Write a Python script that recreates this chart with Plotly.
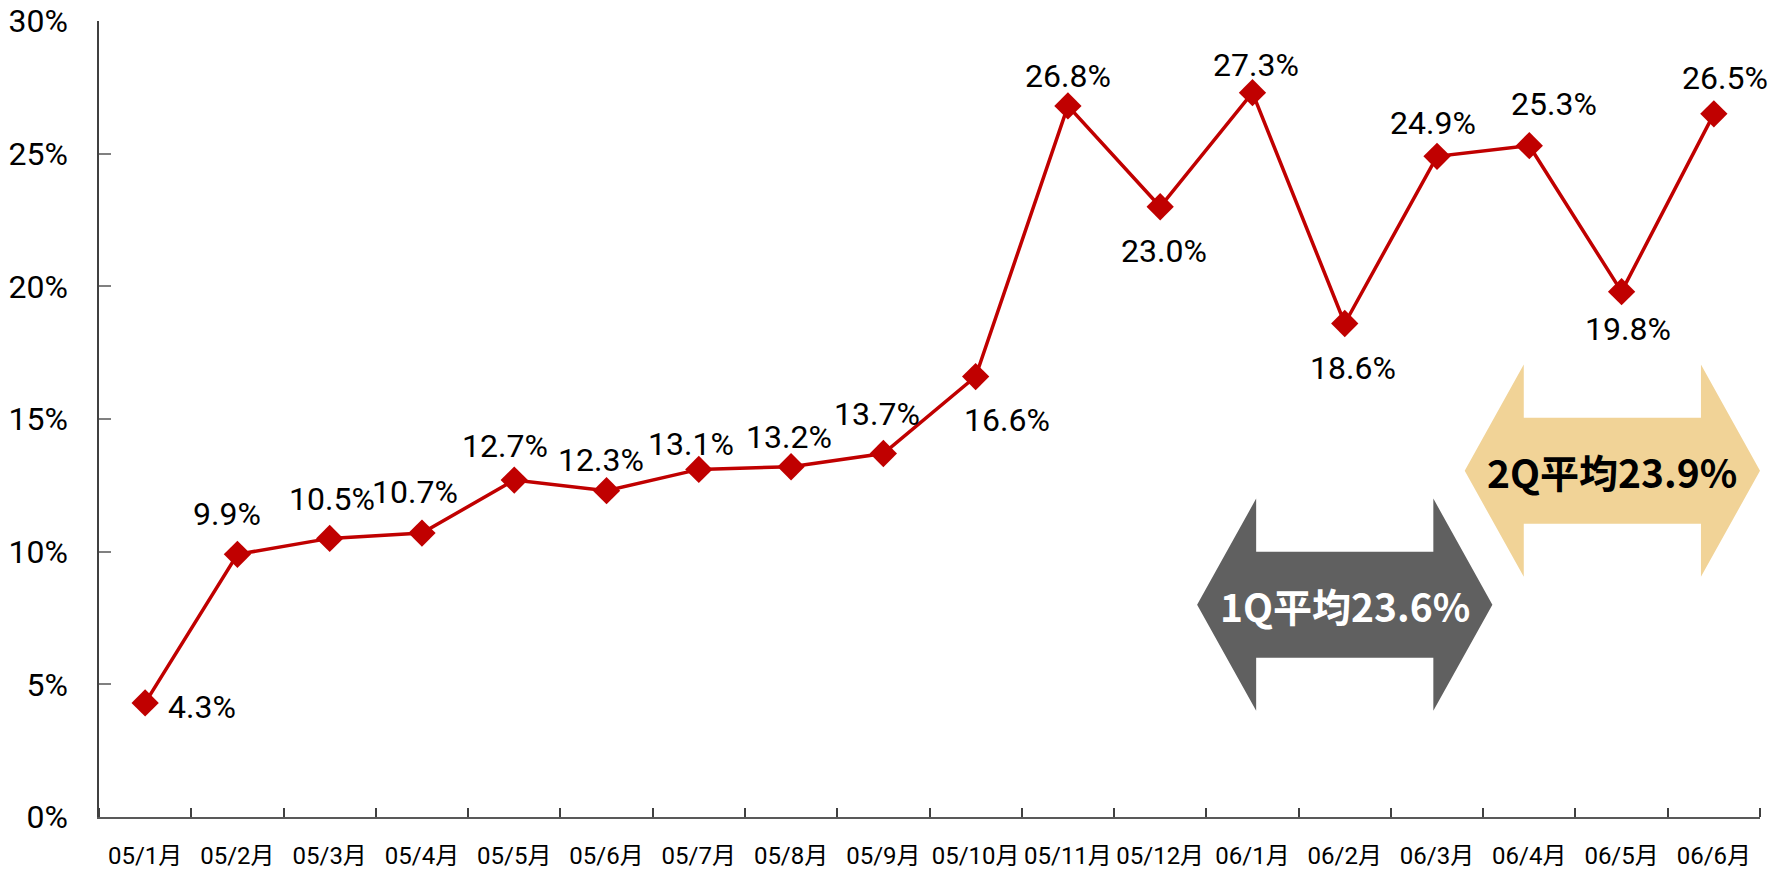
import plotly.graph_objects as go

months = ["05/1月", "05/2月", "05/3月", "05/4月", "05/5月", "05/6月", "05/7月", "05/8月", "05/9月",
          "05/10月", "05/11月", "05/12月", "06/1月", "06/2月", "06/3月", "06/4月", "06/5月", "06/6月"]
rates = [4.3, 9.9, 10.5, 10.7, 12.7, 12.3, 13.1, 13.2, 13.7, 16.6,
         26.8, 23.0, 27.3, 18.6, 24.9, 25.3, 19.8, 26.5]
y_ticks = [0, 5, 10, 15, 20, 25, 30]
y_tick_labels = ["0%", "5%", "10%", "15%", "20%", "25%", "30%"]
q_labels = ["1Q平均23.6%", "2Q平均23.9%"]

# label offsets in pixels (dx, dy; dy positive = down) -- styling only
label_offsets = [(57, 4), (-10, -40), (2, -39), (-7, -41), (-9, -34), (-6, -31), (-8, -25), (-2, -30),
                 (-6, -39), (31, 43), (0, -30), (4, 44), (4, -28), (8, 45), (-4, -33), (25, -42),
                 (6, 37), (11, -36)]

NARROW = "Roboto, Noto Sans CJK JP, sans-serif"
RED = "#C00000"

xs = list(range(len(months)))

fig = go.Figure()
fig.add_trace(go.Scatter(
    x=xs, y=rates, mode="lines+markers",
    line=dict(color=RED, width=3.5),
    marker=dict(symbol="diamond", size=21, color=RED),
    hoverinfo="skip", showlegend=False,
))

annotations = []
for x, v, (dx, dy) in zip(xs, rates, label_offsets):
    annotations.append(dict(
        x=x, y=v, xref="x", yref="y", text=f"{v:.1f}%", showarrow=False,
        xshift=dx, yshift=-dy, xanchor="center", yanchor="middle",
        font=dict(family=NARROW, size=32, color="#000000"),
    ))


def double_arrow(cx, cy, half_len, head_base, head_half, shaft_half):
    return (f"M {cx - half_len} {cy} "
            f"L {cx - head_base} {cy + head_half} L {cx - head_base} {cy + shaft_half} "
            f"L {cx + head_base} {cy + shaft_half} L {cx + head_base} {cy + head_half} "
            f"L {cx + half_len} {cy} "
            f"L {cx + head_base} {cy - head_half} L {cx + head_base} {cy - shaft_half} "
            f"L {cx - head_base} {cy - shaft_half} L {cx - head_base} {cy - head_half} Z")


arrows = [
    dict(cx=13.0, cy=8.0, color="#606060", text=q_labels[0], tcolor="#FFFFFF"),
    dict(cx=15.9, cy=13.05, color="#F1D397", text=q_labels[1], tcolor="#000000"),
]
shapes = []
for a in arrows:
    shapes.append(dict(type="path", xref="x", yref="y",
                       path=double_arrow(a["cx"], a["cy"], 1.6, 0.96, 4.0, 2.0),
                       fillcolor=a["color"], line=dict(width=0), layer="above"))
    annotations.append(dict(
        x=a["cx"], y=a["cy"], xref="x", yref="y", text=f"<b>{a['text']}</b>", showarrow=False,
        xanchor="center", yanchor="middle",
        font=dict(family="Noto Sans CJK JP, sans-serif", size=39, color=a["tcolor"]),
    ))

# page body has an 8px margin: the figure is sized to fill the rest of the window
fig.update_layout(
    width=1774, height=863,
    margin=dict(l=91, r=22, t=13, b=54),
    plot_bgcolor="#FFFFFF", paper_bgcolor="#FFFFFF",
    shapes=shapes, annotations=annotations,
    xaxis=dict(
        range=[-0.5, 17.5], tickmode="array", tickvals=xs, ticktext=months,
        ticks="", showgrid=False, zeroline=False, automargin=False, tickangle=0,
        showline=True, linecolor="#595959", linewidth=1.5,
        tickfont=dict(family=NARROW, size=24, color="#000000"),
        ticklabelstandoff=16, ticklabeloverflow="allow",
        minor=dict(tickmode="array", tickvals=[k - 0.5 for k in range(len(months) + 1)],
                   ticks="inside", ticklen=9, tickwidth=1.5, tickcolor="#404040", showgrid=False),
    ),
    yaxis=dict(
        range=[0, 30], tickmode="array", tickvals=y_ticks, ticktext=y_tick_labels,
        ticks="inside", ticklen=12, tickwidth=2, tickcolor="#808080",
        showgrid=False, zeroline=False, automargin=False,
        showline=True, linecolor="#404040", linewidth=1.5,
        tickfont=dict(family=NARROW, size=32, color="#000000"),
        ticklabelstandoff=23, ticklabeloverflow="allow",
    ),
)

fig.write_html("out.html")
